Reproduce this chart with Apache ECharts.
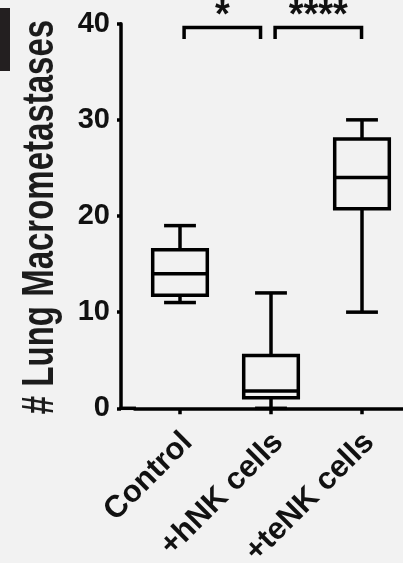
<!DOCTYPE html>
<html>
<head>
<meta charset="utf-8">
<script src="https://cdn.jsdelivr.net/npm/echarts@6/dist/echarts.min.js"></script>
<style>
  html, body { margin: 0; padding: 0; background: #f2f2f2; }
  #chart { width: 403px; height: 563px; }
</style>
</head>
<body>
<div id="chart"></div>
<script>
// Groups and five-number summaries of lung macrometastasis counts
const categories = ['Control', '+hNK cells', '+teNK cells'];
const minValues = [11, 0, 10];
const q1Values = [11.75, 1.1, 20.75];
const medianValues = [14, 1.8, 24];
const q3Values = [16.5, 5.5, 28];
const maxValues = [19, 12, 30];

// Y axis ticks
const yMin = 0;
const yMax = 40;
const yStep = 10;

// Pairwise comparisons: group indices and significance marks
const compareFrom = [0, 1];
const compareTo = [1, 2];
const compareMarks = ['*', '****'];
const bracketValue = 39.6;
const bracketTipValue = 38.4;

// bracket end insets, as a share of the category band
const bracketInsets = [[0.045, 0.115], [0.045, 0.005]];

const FONT = '"Liberation Sans", Arial, sans-serif';
const INK = '#111';

const boxData = categories.map((c, i) => [i, minValues[i], q1Values[i], medianValues[i], q3Values[i], maxValues[i]]);
const bracketData = compareFrom.map((f, i) => [f, compareTo[i], bracketValue, bracketTipValue]);

function renderBox(params, api) {
  const i = api.value(0);
  const pMin = api.coord([i, api.value(1)]);
  const pQ1 = api.coord([i, api.value(2)]);
  const pMed = api.coord([i, api.value(3)]);
  const pQ3 = api.coord([i, api.value(4)]);
  const pMax = api.coord([i, api.value(5)]);
  const band = api.size([1, 0])[0];
  const half = band * 0.3;
  const cap = band * 0.175;
  const x = pMed[0];
  const st = { stroke: '#000', lineWidth: 3.5, fill: null };
  return {
    type: 'group',
    children: [
      { type: 'line', shape: { x1: x, y1: pMax[1], x2: x, y2: pQ3[1] }, style: st },
      { type: 'line', shape: { x1: x, y1: pQ1[1], x2: x, y2: pMin[1] }, style: st },
      { type: 'line', shape: { x1: x - cap, y1: pMax[1], x2: x + cap, y2: pMax[1] }, style: st },
      { type: 'line', shape: { x1: x - cap, y1: pMin[1], x2: x + cap, y2: pMin[1] }, style: st },
      { type: 'rect', shape: { x: x - half, y: pQ3[1], width: half * 2, height: pQ1[1] - pQ3[1] }, style: st },
      { type: 'line', shape: { x1: x - half, y1: pMed[1], x2: x + half, y2: pMed[1] }, style: st }
    ]
  };
}

function renderBracket(params, api) {
  const k = params.dataIndex;
  const a = api.value(0);
  const b = api.value(1);
  const pA = api.coord([a, api.value(2)]);
  const pB = api.coord([b, api.value(2)]);
  const tip = api.coord([a, api.value(3)])[1];
  const band = api.size([1, 0])[0];
  const x1 = pA[0] + band * bracketInsets[k][0];
  const x2 = pB[0] - band * bracketInsets[k][1];
  const y = pA[1];
  const st = { stroke: '#000', lineWidth: 3.5, fill: null };
  return {
    type: 'group',
    children: [
      { type: 'polyline', shape: { points: [[x1, tip], [x1, y], [x2, y], [x2, tip]] }, style: st },
      {
        type: 'text',
        style: {
          text: compareMarks[k],
          x: (x1 + x2) / 2,
          y: y - 11,
          fill: INK,
          font: 'bold 38px ' + FONT,
          align: 'center',
          verticalAlign: 'middle',
          textAlign: 'center',
          textVerticalAlign: 'middle'
        }
      }
    ]
  };
}

const chart = echarts.init(document.getElementById('chart'), null, { renderer: 'canvas' });

chart.setOption({
  backgroundColor: '#f2f2f2',
  animation: false,
  grid: {
    left: 134.5, top: 23.7, width: 273, height: 384.6,
    containLabel: false,
    outerBoundsMode: 'none'
  },
  xAxis: {
    type: 'category',
    data: categories,
    boundaryGap: true,
    axisLine: { show: true, lineStyle: { color: '#000', width: 3.5 } },
    axisTick: { show: true, alignWithLabel: true, length: 6, lineStyle: { color: '#000', width: 3.5 } },
    axisLabel: {
      rotate: 45,
      margin: 22,
      interval: 0,
      color: INK,
      fontSize: 31,
      fontWeight: 'bold',
      fontFamily: FONT,
      verticalAlign: 'top',
      lineHeight: 21
    },
    splitLine: { show: false }
  },
  yAxis: {
    type: 'value',
    min: yMin,
    max: yMax,
    interval: yStep,
    offset: 13.5,
    axisLine: { show: true, lineStyle: { color: '#000', width: 3.5 } },
    axisTick: { show: true, length: 4, lineStyle: { color: '#000', width: 3.5 } },
    axisLabel: { margin: 11, color: INK, fontSize: 29, fontWeight: 'bold', fontFamily: FONT },
    splitLine: { show: false }
  },
  graphic: [
    // dark edge block at the top left
    { type: 'rect', left: 0, top: 8, shape: { width: 10, height: 63 }, style: { fill: '#231f20' } },
    // x axis line continues left to meet the y axis
    { type: 'line', shape: { x1: 119.5, y1: 408.3, x2: 136, y2: 408.3 }, style: { stroke: '#000', lineWidth: 3.5 } },
    // y axis title
    {
      type: 'text',
      x: 41,
      y: 217,
      rotation: Math.PI / 2,
      scaleY: 1.35,
      style: {
        text: '# Lung Macrometastases',
        fill: '#1c1c1c',
        font: 'bold 33px ' + FONT,
        align: 'center',
        verticalAlign: 'middle',
        textAlign: 'center',
        textVerticalAlign: 'middle'
      }
    }
  ],
  series: [
    {
      type: 'custom',
      name: 'boxes',
      renderItem: renderBox,
      data: boxData,
      encode: { x: 0, y: [1, 2, 3, 4, 5] },
      clip: false,
      z: 3
    },
    {
      type: 'custom',
      name: 'brackets',
      renderItem: renderBracket,
      data: bracketData,
      encode: { x: [0, 1], y: [2, 3] },
      clip: false,
      z: 3
    }
  ]
});
</script>
</body>
</html>
